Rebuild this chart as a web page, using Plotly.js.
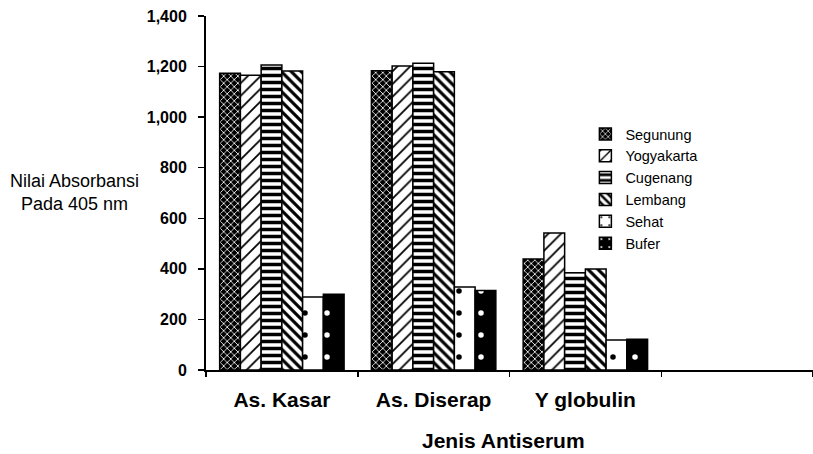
<!DOCTYPE html>
<html>
<head>
<meta charset="utf-8">
<script src="https://cdn.plot.ly/plotly-3.0.1.min.js"></script>
<style>html,body{margin:0;padding:0;background:#fff;}#chart{width:813px;height:454px;}</style>
</head>
<body>
<div id="chart"></div>
<script>
var categories = ["As. Kasar", "As. Diserap", "Y globulin"];
var seriesNames = ["Segunung", "Yogyakarta", "Cugenang", "Lembang", "Sehat", "Bufer"];
var segunung   = [1174, 1183, 439];
var yogyakarta = [1166, 1202, 542];
var cugenang   = [1206, 1213, 385];
var lembang    = [1182, 1180, 399];
var sehat      = [289, 328, 119];
var bufer      = [300, 314, 122];
var yTicks = [0, 200, 400, 600, 800, 1000, 1200, 1400];

var values = [segunung, yogyakarta, cugenang, lembang, sehat, bufer];
var patterns = [
  {shape: "x", bgcolor: "#000", fgcolor: "#fff", size: 5, solidity: 0.3},
  {shape: "/", bgcolor: "#fff", fgcolor: "#000", size: 9, solidity: 0.2},
  {shape: "-", bgcolor: "#fff", fgcolor: "#000", size: 7, solidity: 0.5},
  {shape: "\\", bgcolor: "#fff", fgcolor: "#000", size: 7, solidity: 0.45},
  {shape: ".", bgcolor: "#fff", fgcolor: "#000", size: 22, solidity: 0.05},
  {shape: ".", bgcolor: "#000", fgcolor: "#fff", size: 22, solidity: 0.05}
];
var bgs = ["#000", "#fff", "#fff", "#fff", "#fff", "#000"];

var traces = seriesNames.map(function (n, i) {
  return {
    type: "bar",
    name: n,
    x: categories,
    y: values[i],
    marker: {color: bgs[i], line: {color: "#000", width: 1.5}, pattern: patterns[i]}
  };
});

var layout = {
  width: 813, height: 454,
  margin: {l: 206, r: 0, t: 16, b: 84},
  paper_bgcolor: "#fff", plot_bgcolor: "#fff",
  barmode: "group", bargap: 0.18, bargroupgap: 0,
  font: {family: "Liberation Sans, Arial, sans-serif", color: "#000"},
  showlegend: true,
  legend: {
    x: 0.625, xanchor: "left", y: 0.712, yanchor: "top",
    font: {size: 14.5, color: "#000"}, bgcolor: "rgba(0,0,0,0)",
    tracegroupgap: 0
  },
  xaxis: {
    type: "category",
    categoryorder: "array", categoryarray: categories.concat([" "]),
    range: [-0.5, 3.5],
    showline: true, linecolor: "#000", linewidth: 2,
    ticks: "outside", tickson: "boundaries", ticklen: 5, tickcolor: "#000", tickwidth: 1.5,
    tickfont: {size: 21, family: "Liberation Sans, Arial, sans-serif", weight: "bold", color: "#000"},
    ticklabelstandoff: 10,
    showgrid: false, zeroline: false, fixedrange: true
  },
  yaxis: {
    range: [0, 1400], tickvals: yTicks, tickformat: ",d",
    showline: true, linecolor: "#000", linewidth: 2,
    ticks: "outside", ticklen: 6, tickcolor: "#000", tickwidth: 1.5,
    tickfont: {size: 16, family: "Liberation Sans, Arial, sans-serif", weight: "bold", color: "#000"},
    ticklabelstandoff: 8,
    showgrid: false, zeroline: false, fixedrange: true
  },
  annotations: [
    {text: "Nilai Absorbansi<br>Pada 405 nm", xref: "paper", yref: "paper",
     x: -0.216, y: 0.501, xanchor: "center", yanchor: "middle", showarrow: false,
     font: {size: 18, color: "#000"}},
    {text: "<b>Jenis Antiserum</b>", xref: "paper", yref: "paper",
     x: 0.49, y: -0.2, xanchor: "center", yanchor: "middle", showarrow: false,
     font: {size: 21, color: "#000"}}
  ]
};

Plotly.newPlot("chart", traces, layout, {displayModeBar: false, staticPlot: true});
</script>
</body>
</html>
